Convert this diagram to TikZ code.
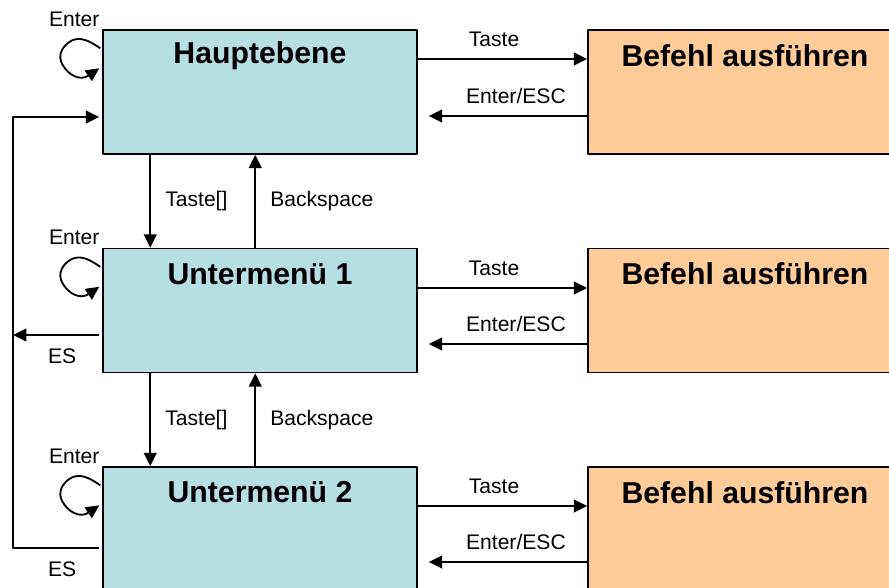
\documentclass[tikz,border=0pt]{standalone}
\usepackage{fontspec}
\setmainfont{Liberation Sans}
\usetikzlibrary{arrows.meta,calc,positioning}
\definecolor{menublue}{RGB}{183,222,226}
\definecolor{cmdorange}{RGB}{255,204,153}
\begin{document}
\begin{tikzpicture}[x=0.025cm,y=-0.025cm,line join=round,
    >={Triangle[length=9.5pt,width=9pt]},
    menu/.style={draw,fill=menublue,line width=1pt,minimum width=7.85cm,minimum height=3.1cm,inner sep=0pt},
    cmd/.style={menu,fill=cmdorange},
    title/.style={font=\fontsize{21.5}{24}\selectfont\bfseries},
    lbl/.style={font=\fontsize{15}{17}\selectfont,inner sep=2pt},
    arr/.style={->,line width=1.4pt}]
    \path[use as bounding box,clip] (0,0) rectangle (889,587);
    \def\xl{13}
    % the three menu levels with their command boxes
    \foreach \i/\yy/\ta/\tb/\name in {1/92/-33/24/Hauptebene,2/310.5/-22.5/33.5/Untermenü 1,3/529/-23/33/Untermenü 2}{
        \node[menu] (m\i) at (260,\yy) {};
        \node[cmd] (c\i) at (745,\yy) {};
        \node[title] at ($(m\i.north)+(0,26)$) {\name};
        \node[title] at ($(c\i.north)+(0,26)$) {Befehl ausführen};
        \draw[arr] ($(m\i.east)+(0,\ta)$) -- node[lbl,above=6pt,pos=.45]{Taste} ($(c\i.west)+(0,\ta)$);
        \draw[arr] ($(c\i.west)+(0,\tb)$) -- node[lbl,above=6pt,pos=.45]{Enter/ESC} ($(m\i.east)+(11,\tb)$);
        % Enter loop
        \node[lbl] at ($(m\i.north west)+(-28,-10)$) {Enter};
        \begin{scope}[shift={(m\i.north west)}]
            \draw[arr,line width=1.3pt] (-2,19) .. controls (-15,10) and (-22,8) .. (-30,11)
                .. controls (-40,16) and (-45,26) .. (-40,35)
                .. controls (-34,46) and (-22,52) .. (-3,39);
        \end{scope}
    }
    % up and down between the levels
    \foreach \i/\j in {1/2,2/3}{
        \draw[arr] ($(m\i.south west)+(48,0)$) -- node[lbl,right=8pt]{Taste[]} ($(m\j.north west)+(48,0)$);
        \draw[arr] ($(m\j.north west)+(153,0)$) -- node[lbl,right=8pt]{Backspace} ($(m\i.south west)+(153,0)$);
    }
    % ES back to the main level
    \coordinate (top) at (\xl,117);
    \coordinate (bot) at (\xl,548);
    \coordinate (es2) at ($(m2.west)+(-3,24.5)$);
    \draw[arr] ($(m3.west)+(-3,19)$) -- node[lbl,below=7pt,pos=.43]{ES} (bot) -- (top) -- ($(m1.west)+(-3,25)$);
    \draw[arr] (es2) -- node[lbl,below=7pt,pos=.43]{ES} (es2 -| top);
\end{tikzpicture}
\end{document}
